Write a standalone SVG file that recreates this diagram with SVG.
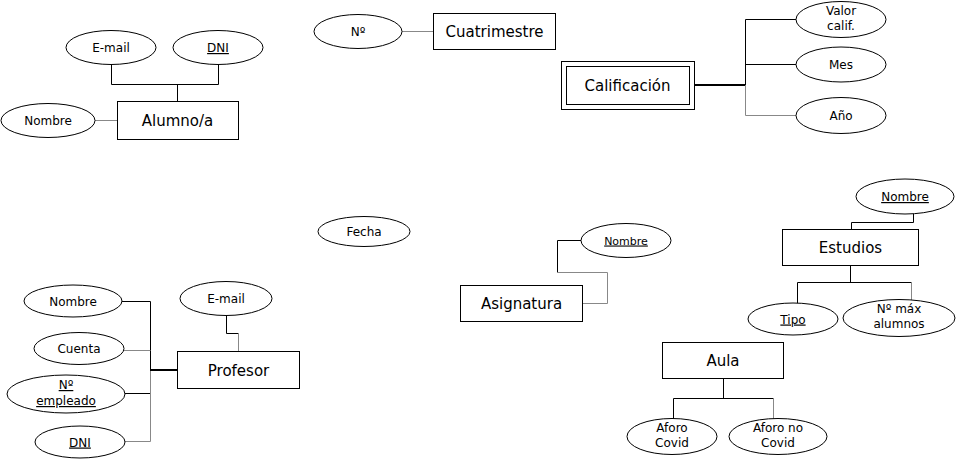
<svg xmlns="http://www.w3.org/2000/svg" width="958" height="461" viewBox="0 0 958 461">
<style>
.e{fill:#fff;stroke:#000;stroke-width:1}
.r{fill:#fff;stroke:#000;stroke-width:1}
.t{font-family:"DejaVu Sans",sans-serif;font-size:12px;text-anchor:middle;fill:#000}
.T{font-family:"DejaVu Sans",sans-serif;font-size:15px;text-anchor:middle;fill:#000}
.u{text-decoration:underline}
.c{fill:none;stroke:#000;stroke-width:1}
.g{fill:none;stroke:#888;stroke-width:1}
.k{fill:none;stroke:#000;stroke-width:2}
</style>
<rect width="958" height="461" fill="#fff"/>
<g id="connectors">
<path class="c" d="M111.5 64V84.5H218.5V64M177.5 84.5V101"/>
<path class="g" d="M95 120.5H117"/>
<path class="g" d="M402 31.5H433"/>
<path class="k" d="M694 85H745"/>
<path class="c" d="M797 19.5H745.5V85M745.5 64.5H797"/>
<path class="g" d="M745.5 85V115.5H797"/>
<path class="c" d="M122 301.5H150.5V370M150.5 393.5H125"/>
<path class="g" d="M124 350.5H150.5M150.5 370V441.5H124"/>
<path class="k" d="M150 370H177"/>
<path class="c" d="M226.5 315V333.5H238.5"/>
<path class="g" d="M238.5 333.5V351"/>
<path class="c" d="M581 240.5H557.5V272.5"/>
<path class="g" d="M557.5 272.5H607.5V303.5H583"/>
<path class="c" d="M913.5 214V222.5H851.5V229"/>
<path class="c" d="M850.5 266V282.5M797.5 307V282.5H911.5"/>
<path class="g" d="M911.5 282.5V300"/>
<path class="c" d="M723.5 378V398.5M673.5 420V398.5H773.5"/>
<path class="g" d="M773.5 398.5V419"/>
</g>
<g id="alumno"><rect class="r" x="117.5" y="101.5" width="121" height="38"/><text class="T" x="177.5" y="126">Alumno/a</text></g>
<g id="alumno-email"><ellipse class="e" cx="111" cy="47.5" rx="45" ry="17"/><text class="t" x="111" y="52">E-mail</text></g>
<g id="alumno-dni"><ellipse class="e" cx="218" cy="47.5" rx="45" ry="17"/><text class="t u" x="218" y="52">DNI</text></g>
<g id="alumno-nombre"><ellipse class="e" cx="48" cy="120.5" rx="47" ry="17"/><text class="t" x="48" y="125">Nombre</text></g>
<g id="cuatrimestre"><rect class="r" x="433.5" y="13.5" width="122" height="36"/><text class="T" x="494.5" y="37">Cuatrimestre</text></g>
<g id="cuatrimestre-n"><ellipse class="e" cx="358" cy="31.5" rx="44" ry="17"/><text class="t" x="358" y="36">Nº</text></g>
<g id="calificacion"><rect class="r" x="561.5" y="61.5" width="133" height="48"/><rect class="r" x="566.5" y="66.5" width="123" height="38"/><text class="T" x="627.5" y="91">Calificación</text></g>
<g id="valor"><ellipse class="e" cx="841" cy="19.5" rx="45" ry="18"/><text class="t" x="841" y="15">Valor</text><text class="t" x="841" y="30">calif.</text></g>
<g id="mes"><ellipse class="e" cx="841" cy="64.5" rx="45" ry="17.5"/><text class="t" x="841" y="69">Mes</text></g>
<g id="ano"><ellipse class="e" cx="841" cy="115.5" rx="45" ry="18"/><text class="t" x="841" y="120">Año</text></g>
<g id="fecha"><ellipse class="e" cx="364" cy="231.5" rx="46" ry="15"/><text class="t" x="364" y="236">Fecha</text></g>
<g id="profesor"><rect class="r" x="177.5" y="351.5" width="122" height="37"/><text class="T" x="238.5" y="376">Profesor</text></g>
<g id="profesor-email"><ellipse class="e" cx="226" cy="298.5" rx="46" ry="17"/><text class="t" x="226" y="303">E-mail</text></g>
<g id="profesor-nombre"><ellipse class="e" cx="73" cy="301" rx="49" ry="16"/><text class="t" x="73" y="305.5">Nombre</text></g>
<g id="cuenta"><ellipse class="e" cx="79" cy="348.5" rx="45" ry="16"/><text class="t" x="79" y="353">Cuenta</text></g>
<g id="nempleado"><ellipse class="e" cx="66" cy="394" rx="59" ry="19"/><text class="t u" x="66" y="389">Nº</text><text class="t u" x="66" y="405">empleado</text></g>
<g id="profesor-dni"><ellipse class="e" cx="80" cy="442" rx="45" ry="16"/><text class="t u" x="80" y="446.5">DNI</text></g>
<g id="asignatura"><rect class="r" x="460.5" y="285.5" width="122" height="36"/><text class="T" x="521.5" y="309">Asignatura</text></g>
<g id="asignatura-nombre"><ellipse class="e" cx="626" cy="240.5" rx="45" ry="17"/><text class="t u" x="626" y="244.5" style="font-size:11px">Nombre</text></g>
<g id="estudios"><rect class="r" x="782.5" y="229.5" width="136" height="36"/><text class="T" x="850.5" y="253">Estudios</text></g>
<g id="estudios-nombre"><ellipse class="e" cx="905" cy="196.5" rx="49" ry="17.5"/><text class="t u" x="905" y="201">Nombre</text></g>
<g id="tipo"><ellipse class="e" cx="793" cy="319" rx="45" ry="16"/><text class="t u" x="793" y="323.5">Tipo</text></g>
<g id="nmax"><ellipse class="e" cx="899" cy="318" rx="56" ry="18.5"/><text class="t" x="899" y="313">Nº máx</text><text class="t" x="899" y="328">alumnos</text></g>
<g id="aula"><rect class="r" x="662.5" y="342.5" width="121" height="36"/><text class="T" x="723" y="366">Aula</text></g>
<g id="aforo-covid"><ellipse class="e" cx="672" cy="436.5" rx="45" ry="18"/><text class="t" x="672" y="432">Aforo</text><text class="t" x="672" y="447">Covid</text></g>
<g id="aforo-no-covid"><ellipse class="e" cx="778" cy="436.5" rx="49" ry="18"/><text class="t" x="778" y="432">Aforo no</text><text class="t" x="778" y="447">Covid</text></g>
</svg>
